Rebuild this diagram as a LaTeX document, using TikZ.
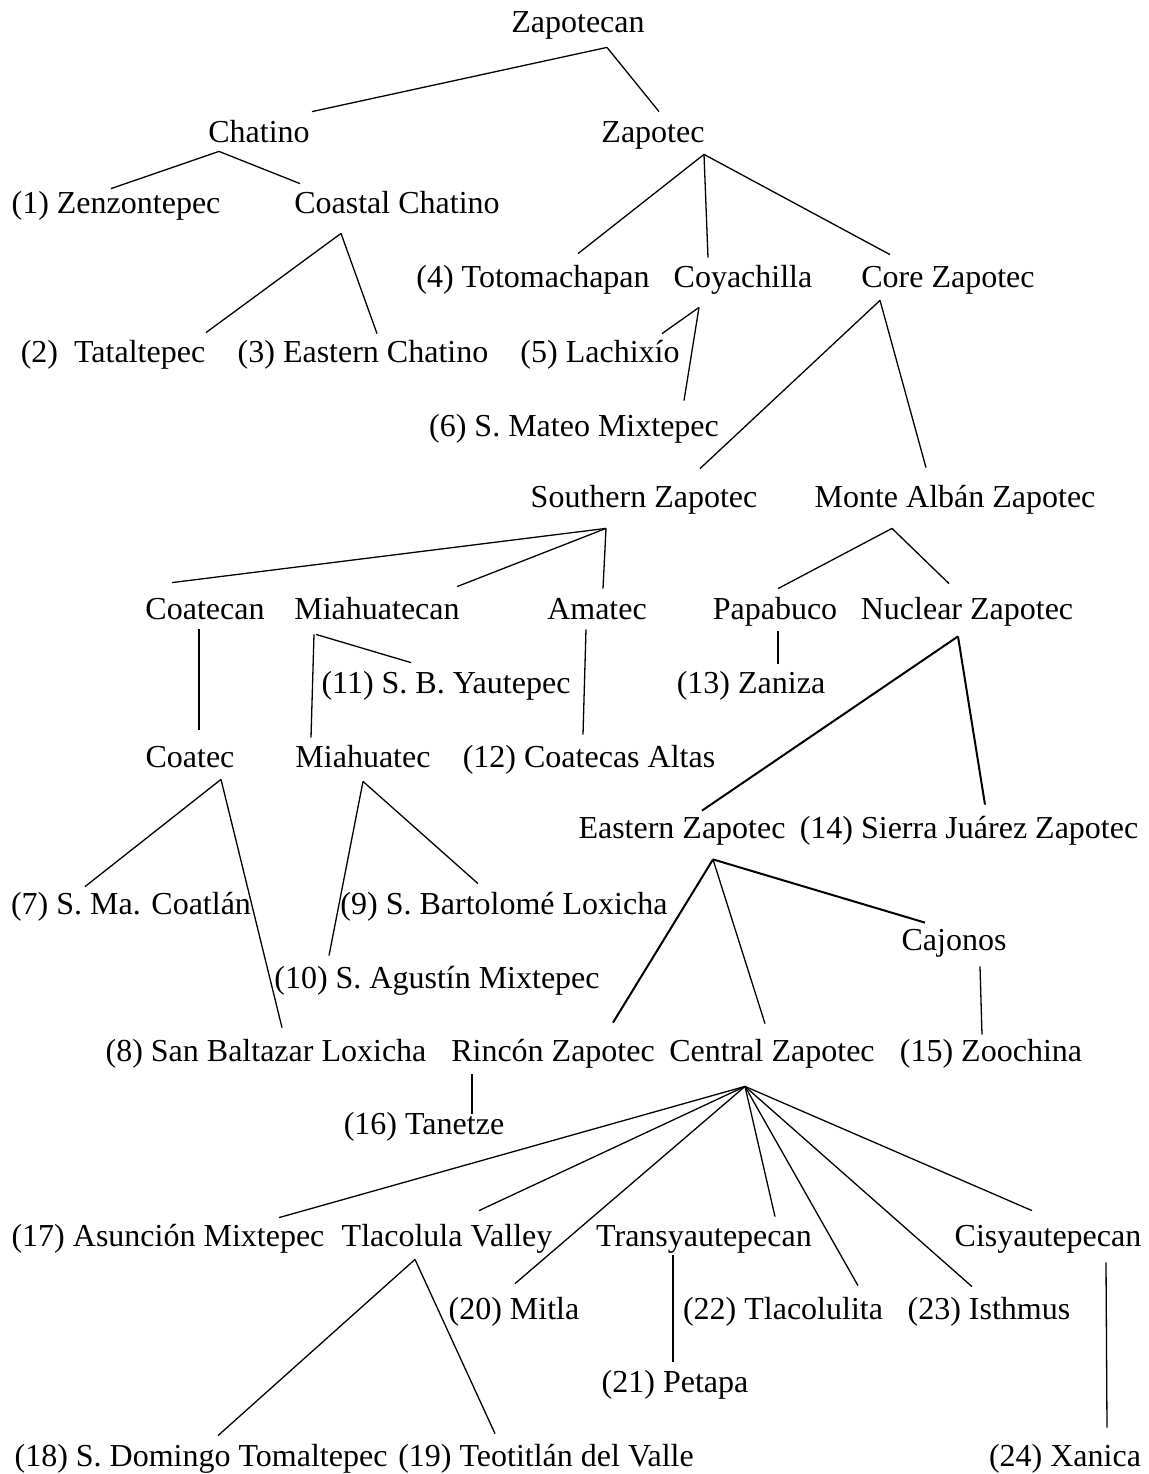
\documentclass[tikz,border=0pt]{standalone}
\usepackage{fontspec}
\setmainfont{Liberation Serif}
\usetikzlibrary{calc}

\tikzset{
  lang/.style={anchor=base, inner xsep=0pt, inner ysep=4pt,
    text height=11pt, text depth=4pt, font=\fontsize{16}{19}\selectfont},
  branch/.style={line width=0.65pt},
  heavy/.style={line width=1pt},
}

\begin{document}
\begin{tikzpicture}[x=0.5pt, y=-0.5pt]
\useasboundingbox (0,0) rectangle (1149,1474);

%\draw[help lines, step=50] (0,0) grid (1149,1474);

% top of the tree
\node[lang] (zapotecan) at (578,32) {Zapotecan};
\node[lang] (chatino) at (259,142) {Chatino};
\node[lang] (zapotec) at (653,142) {Zapotec};

\node[lang] (zenzontepec) at (116,213) {(1) Zenzontepec};
\node[lang] (coastal) at (397,213) {Coastal Chatino};

\node[lang] (totomachapan) at (533,287) {(4) Totomachapan};
\node[lang] (coyachilla) at (743,287) {Coyachilla};
\node[lang] (core) at (948,287) {Core Zapotec};

\node[lang] (tataltepec) at (113,362) {(2)\ \ Tataltepec};
\node[lang] (eastchatino) at (363,362) {(3) Eastern Chatino};
\node[lang] (lachixio) at (600,362) {(5) Lachixío};
\node[lang] (mateo) at (574,436) {(6) S. Mateo Mixtepec};

\node[lang] (southern) at (644,507) {Southern Zapotec};
\node[lang] (montealban) at (955,507) {Monte Albán Zapotec};

% middle
\node[lang] (coatecan) at (205,619) {Coatecan};
\node[lang] (miahuatecan) at (377,619) {Miahuatecan};
\node[lang] (amatec) at (597,619) {Amatec};
\node[lang] (papabuco) at (775,619) {Papabuco};
\node[lang] (nuclear) at (967,619) {Nuclear Zapotec};

\node[lang] (yautepec) at (446,693) {(11) S. B. Yautepec};
\node[lang] (zaniza) at (751,693) {(13) Zaniza};

\node[lang] (coatec) at (190,767) {Coatec};
\node[lang] (miahuatec) at (363,767) {Miahuatec};
\node[lang] (coatecas) at (589,767) {(12) Coatecas Altas};

\node[lang] (eastern) at (682,838) {Eastern Zapotec};
\node[lang] (sierra) at (969,838) {(14) Sierra Juárez Zapotec};

\node[lang] (coatlan) at (131,914) {(7) S. Ma. Coatlán};
\node[lang] (bartolome) at (504,914) {(9) S. Bartolomé Loxicha};
\node[lang] (cajonos) at (954,950) {Cajonos};
\node[lang] (agustin) at (437,988) {(10) S. Agustín Mixtepec};

\node[lang] (baltazar) at (266,1061) {(8) San Baltazar Loxicha};
\node[lang] (rincon) at (553,1061) {Rincón Zapotec};
\node[lang] (central) at (772,1061) {Central Zapotec};
\node[lang] (zoochina) at (991,1061) {(15) Zoochina};
\node[lang] (tanetze) at (424,1134) {(16) Tanetze};

% bottom
\node[lang] (asuncion) at (168,1246) {(17) Asunción Mixtepec};
\node[lang] (tlacolula) at (447,1246) {Tlacolula Valley};
\node[lang] (transy) at (704,1246) {Transyautepecan};
\node[lang] (cisy) at (1048,1246) {Cisyautepecan};

\node[lang] (mitla) at (514,1319) {(20) Mitla};
\node[lang] (tlacolulita) at (783,1319) {(22) Tlacolulita};
\node[lang] (isthmus) at (989,1319) {(23) Isthmus};
\node[lang] (petapa) at (675,1392) {(21) Petapa};

\node[lang] (domingo) at (201,1466) {(18) S. Domingo Tomaltepec};
\node[lang] (teotitlan) at (546,1466) {(19) Teotitlán del Valle};
\node[lang] (xanica) at (1065,1466) {(24) Xanica};

% branches
\draw[branch] ($(zapotecan.south)+(29,-1)$) -- ($(chatino.north)+(53,0)$);
\draw[branch] ($(zapotecan.south)+(29,-1)$) -- ($(zapotec.north)+(6,0)$);

\draw[branch] ($(chatino.south)+(-40,-7)$) -- ($(zenzontepec.north)+(-5,6)$);
\draw[branch] ($(chatino.south)+(-40,-7)$) -- ($(coastal.north)+(-97,1)$);

\draw[branch] ($(zapotec.south)+(51,-4)$) -- ($(totomachapan.north)+(45,-3)$);
\draw[branch] ($(zapotec.south)+(51,-4)$) -- ($(coyachilla.north)+(-35,1)$);
\draw[branch] ($(zapotec.south)+(51,-4)$) -- ($(core.north)+(-58,-2)$);

\draw[branch] ($(coastal.south)+(-56,4)$) -- ($(tataltepec.north)+(93,1)$);
\draw[branch] ($(coastal.south)+(-56,4)$) -- ($(eastchatino.north)+(14,2)$);

\draw[branch] ($(coyachilla.south)+(-44,4)$) -- ($(lachixio.north)+(62,2)$);
\draw[branch] ($(coyachilla.south)+(-44,4)$) -- ($(mateo.north)+(110,-5)$);

\draw[branch] ($(core.south)+(-68,-3)$) -- ($(southern.north)+(56,-8)$);
\draw[branch] ($(core.south)+(-68,-3)$) -- ($(montealban.north)+(-29,-9)$);

\draw[branch] ($(southern.south)+(-38,5)$) -- ($(coatecan.north)+(-33,-6)$);
\draw[branch] ($(southern.south)+(-38,5)$) -- ($(miahuatecan.north)+(80,-2)$);
\draw[branch] ($(southern.south)+(-38,5)$) -- ($(amatec.north)+(6,0)$);

\draw[branch] ($(montealban.south)+(-63,5)$) -- ($(papabuco.north)+(3,0)$);
\draw[branch] ($(montealban.south)+(-63,5)$) -- ($(nuclear.north)+(-18,-5)$);

\draw[branch] ($(coatecan.south)+(-6,-6)$) -- ($(coatec.north)+(9,-7)$);
\draw[branch] ($(miahuatecan.south)+(-61,-1)$) -- ($(yautepec.north)+(-35,0)$);
\draw[branch] ($(miahuatecan.south)+(-63,-1)$) -- ($(miahuatec.north)+(-52,1)$);
\draw[branch] ($(amatec.south)+(-11,-6)$) -- ($(coatecas.north)+(-6,-2)$);
\draw[branch] ($(papabuco.south)+(3,-4)$) -- ($(zaniza.north)+(27,1)$);

\draw[heavy] ($(nuclear.south)+(-9,1)$) -- ($(eastern.north)+(20,3)$);
\draw[heavy] ($(nuclear.south)+(-9,1)$) -- ($(sierra.north)+(16,-3)$);

\draw[branch] ($(coatec.south)+(31,-4)$) -- ($(coatlan.north)+(-46,3)$);
\draw[branch] ($(coatec.south)+(31,-4)$) -- ($(baltazar.north)+(16,-3)$);
\draw[branch] ($(miahuatec.south)+(0,-2)$) -- ($(bartolome.north)+(-26,0)$);
\draw[branch] ($(miahuatec.south)+(0,-2)$) -- ($(agustin.north)+(-108,-2)$);

\draw[heavy] ($(eastern.south)+(31,5)$) -- ($(rincon.north)+(60,-8)$);
\draw[branch] ($(eastern.south)+(31,5)$) -- ($(central.north)+(-7,-7)$);
\draw[heavy] ($(eastern.south)+(31,5)$) -- ($(cajonos.north)+(-29,3)$);

\draw[branch] ($(cajonos.south)+(26,0)$) -- ($(zoochina.north)+(-9,4)$);
\draw[branch] ($(rincon.south)+(-81,-3)$) -- ($(tanetze.north)+(48,10)$);

\draw[branch] ($(central.south)+(-27,9)$) -- ($(asuncion.north)+(111,2)$);
\draw[branch] ($(central.south)+(-27,9)$) -- ($(tlacolula.north)+(32,-5)$);
\draw[branch] ($(central.south)+(-27,9)$) -- ($(mitla.north)+(1,-5)$);
\draw[branch] ($(central.south)+(-27,9)$) -- ($(transy.north)+(71,1)$);
\draw[branch] ($(central.south)+(-27,9)$) -- ($(tlacolulita.north)+(75,-3)$);
\draw[branch] ($(central.south)+(-27,9)$) -- ($(isthmus.north)+(-17,-2)$);
\draw[branch] ($(central.south)+(-27,9)$) -- ($(cisy.north)+(-16,-5)$);

\draw[branch] ($(tlacolula.south)+(-32,-3)$) -- ($(domingo.north)+(17,0)$);
\draw[branch] ($(tlacolula.south)+(-32,-3)$) -- ($(teotitlan.north)+(-51,-2)$);
\draw[branch] ($(transy.south)+(-31,-7)$) -- ($(petapa.north)+(-2,0)$);
\draw[branch] ($(cisy.south)+(58,0)$) -- ($(xanica.north)+(42,-8)$);

\end{tikzpicture}
\end{document}
